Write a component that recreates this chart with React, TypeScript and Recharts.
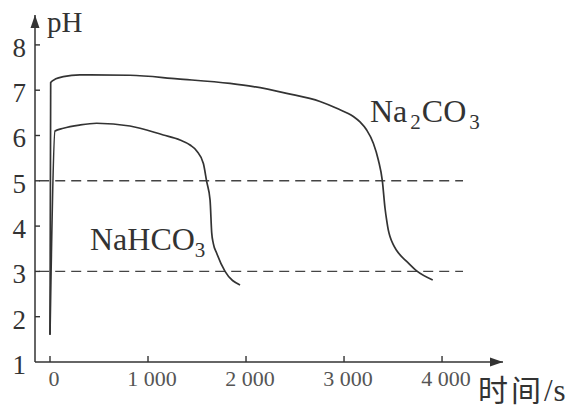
import React from 'react';
import {
  LineChart,
  Line,
  XAxis,
  YAxis,
  ReferenceLine,
  ReferenceDot,
} from 'recharts';

// values (time in s, pH)
const na2co3Time = [0, 7, 60, 136, 306, 816, 1300, 1837, 2075, 2415, 2755, 2925, 3095, 3163, 3231, 3299, 3350, 3391, 3418, 3435, 3452, 3469, 3500, 3537, 3639, 3741, 3905];
const na2co3PH = [1.6, 7.17, 7.25, 7.3, 7.34, 7.33, 7.25, 7.15, 7.08, 6.93, 6.75, 6.6, 6.42, 6.3, 6.12, 5.83, 5.46, 5.0, 4.4, 4.13, 3.91, 3.77, 3.6, 3.46, 3.22, 3.01, 2.81];

const nahco3Time = [0, 51, 136, 300, 476, 816, 1156, 1327, 1429, 1497, 1565, 1599, 1633, 1650, 1666, 1701, 1786, 1939];
const nahco3PH = [1.6, 6.1, 6.16, 6.23, 6.27, 6.21, 6.01, 5.9, 5.79, 5.66, 5.38, 4.98, 4.58, 3.85, 3.62, 3.4, 3.0, 2.7];

const xTicks = [0, 1000, 2000, 3000, 4000];
const xTickLabels = ['0', '1 000', '2 000', '3 000', '4 000'];
const yTicks = [1, 2, 3, 4, 5, 6, 7, 8];
const guideLevels = [5, 3];

const X_MIN = -153;
const X_MAX = 4622;
const Y_MIN = 1;
const Y_MAX = 8.66;

const na2co3 = na2co3Time.map((t, i) => ({ t, ph: na2co3PH[i] }));
const nahco3 = nahco3Time.map((t, i) => ({ t, ph: nahco3PH[i] }));

const SERIF = '"Times New Roman", "Liberation Serif", "DejaVu Serif", serif';
const CJK = '"Noto Sans CJK SC", sans-serif';
const INK = '#333';

const YTick = (props: any) => {
  const { x, y, payload } = props;
  return (
    <g>
      {payload.value > 1 && <line x1={x} y1={y} x2={x + 5} y2={y} stroke={INK} strokeWidth={1.4} />}
      <text x={x - 9} y={y + 12} textAnchor="end" fontFamily={SERIF} fontSize={27} fill={INK}>
        {payload.value}
      </text>
    </g>
  );
};

const XTick = (props: any) => {
  const { x, y, payload } = props;
  const idx = xTicks.indexOf(payload.value);
  return (
    <g>
      <line x1={x} y1={y} x2={x} y2={y - 6} stroke={INK} strokeWidth={1.4} />
      <text x={x + 4} y={y + 24} textAnchor="middle" fontFamily={SERIF} fontSize={22} fill="#555">
        {xTickLabels[idx]}
      </text>
    </g>
  );
};

const ArrowRight = ({ cx, cy }: any) => (
  <path d={`M${cx},${cy} L${cx - 13},${cy - 4.5} L${cx - 13},${cy + 4.5} Z`} fill={INK} />
);

const ArrowUp = ({ cx, cy }: any) => (
  <path d={`M${cx},${cy} L${cx - 4.5},${cy + 13} L${cx + 4.5},${cy + 13} Z`} fill={INK} />
);

const Formula = ({ cx, cy, parts, gap }: any) => (
  <text x={cx} y={cy} fontFamily={SERIF} fontSize={32} fill={INK}>
    {parts.map((p: string, i: number) =>
      i % 2 === 1 ? (
        <tspan key={i} fontSize={21} dx={gap} dy={7}>{p}</tspan>
      ) : (
        <tspan key={i} dx={i === 0 ? 0 : 1} dy={i === 0 ? 0 : -7}>{p}</tspan>
      )
    )}
  </text>
);

export default function App() {
  return (
    <div style={{ position: 'absolute', left: 0, top: 0, background: '#fff' }}>
      <LineChart
        width={574}
        height={409}
        margin={{ top: 15, right: 71, bottom: 0, left: 0 }}
      >
        <XAxis
          dataKey="t"
          type="number"
          domain={[X_MIN, X_MAX]}
          ticks={xTicks}
          interval={0}
          height={47}
          tickSize={0}
          tickMargin={0}
          tickLine={false}
          axisLine={{ stroke: INK, strokeWidth: 1.5 }}
          tick={<XTick />}
          allowDataOverflow
        />
        <YAxis
          type="number"
          domain={[Y_MIN, Y_MAX]}
          ticks={yTicks}
          interval={0}
          width={35}
          tickSize={0}
          tickMargin={0}
          tickLine={false}
          axisLine={{ stroke: INK, strokeWidth: 1.5 }}
          tick={<YTick />}
          allowDataOverflow
        />
        {guideLevels.map((lv) => (
          <ReferenceLine
            key={lv}
            segment={[{ x: -110, y: lv }, { x: 4214, y: lv }]}
            stroke="#444"
            strokeWidth={1.4}
            strokeDasharray="10 6"
          />
        ))}
        <Line
          data={na2co3}
          dataKey="ph"
          type="monotone"
          stroke={INK}
          strokeWidth={1.7}
          dot={false}
          isAnimationActive={false}
        />
        <Line
          data={nahco3}
          dataKey="ph"
          type="monotone"
          stroke={INK}
          strokeWidth={1.7}
          dot={false}
          isAnimationActive={false}
        />
        <ReferenceDot x={X_MAX} y={Y_MIN} ifOverflow="visible" shape={<ArrowRight />} />
        <ReferenceDot x={X_MIN} y={Y_MAX} ifOverflow="visible" shape={<ArrowUp />} />
        <ReferenceDot
          x={-31}
          y={8.28}
          ifOverflow="visible"
          shape={(p: any) => (
            <text x={p.cx} y={p.cy} fontFamily={SERIF} fontSize={29} fill={INK}>pH</text>
          )}
        />
        <ReferenceDot
          x={4367}
          y={0.15}
          ifOverflow="visible"
          shape={(p: any) => (
            <text x={p.cx} y={p.cy} fontFamily={CJK} fontSize={30} letterSpacing={3} fill={INK}>
              时间<tspan fontFamily={SERIF} fontSize={31} letterSpacing={1}>/s</tspan>
            </text>
          )}
        />
        <ReferenceDot
          x={408}
          y={3.47}
          ifOverflow="visible"
          shape={<Formula parts={['NaHCO', '3']} gap={0} />}
        />
        <ReferenceDot
          x={3265}
          y={6.3}
          ifOverflow="visible"
          shape={<Formula parts={['Na', '2', 'CO', '3']} gap={3} />}
        />
      </LineChart>
    </div>
  );
}
